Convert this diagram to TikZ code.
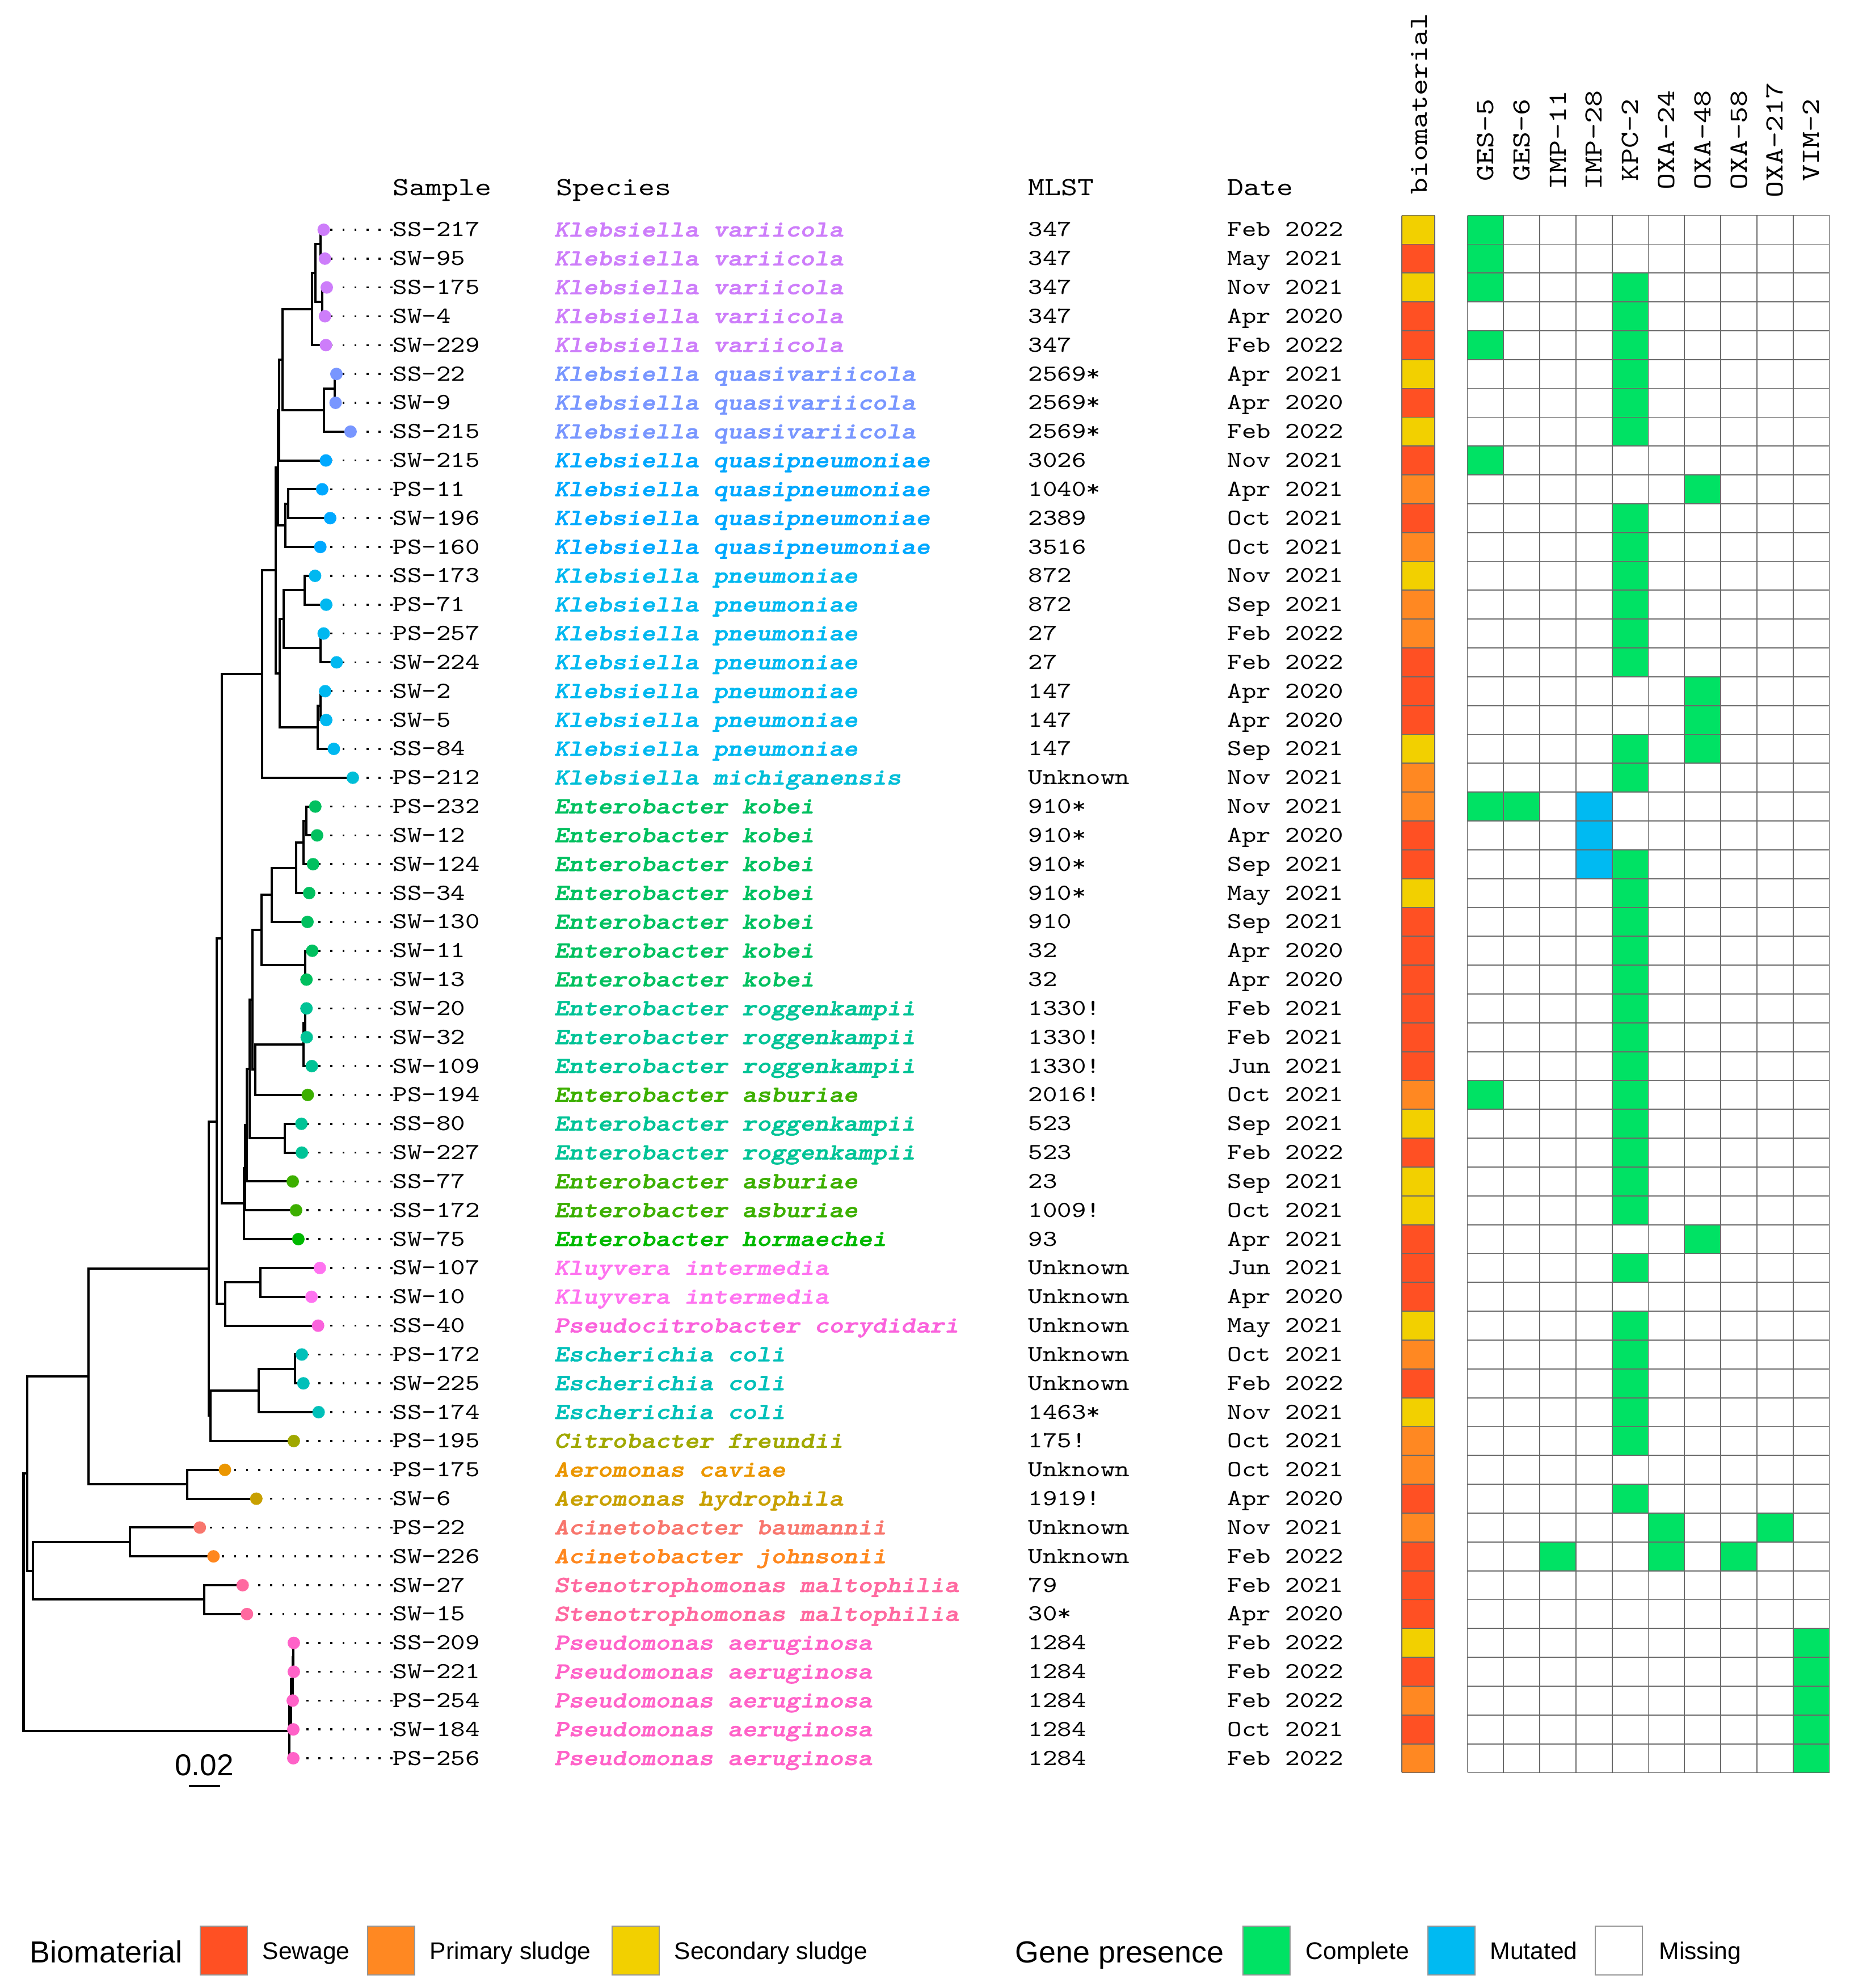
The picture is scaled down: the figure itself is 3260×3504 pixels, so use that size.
\documentclass[tikz,border=0pt]{standalone}
\usepackage{fontspec}
\setmainfont{Liberation Sans}
\newfontfamily\monof{lmmono10-regular.otf}[FakeStretch=1.2]
\newfontfamily\spfont{lmmonolt10-boldoblique.otf}[FakeStretch=1.2, FakeBold=1.5]
\definecolor{cVar}{RGB}{205,125,250}
\definecolor{cQvar}{RGB}{120,150,255}
\definecolor{cQpn}{RGB}{0,168,255}
\definecolor{cKpn}{RGB}{0,184,240}
\definecolor{cKmi}{RGB}{0,190,215}
\definecolor{cEko}{RGB}{0,192,95}
\definecolor{cEro}{RGB}{0,195,150}
\definecolor{cEas}{RGB}{60,175,0}
\definecolor{cEho}{RGB}{0,185,0}
\definecolor{cKin}{RGB}{255,115,240}
\definecolor{cPco}{RGB}{250,98,220}
\definecolor{cEco}{RGB}{0,192,185}
\definecolor{cCfr}{RGB}{160,168,0}
\definecolor{cAca}{RGB}{235,150,0}
\definecolor{cAhy}{RGB}{200,160,0}
\definecolor{cAba}{RGB}{248,118,109}
\definecolor{cAjo}{RGB}{255,135,30}
\definecolor{cSma}{RGB}{255,105,160}
\definecolor{cPae}{RGB}{255,98,200}
\definecolor{cSW}{RGB}{255,80,35}
\definecolor{cPS}{RGB}{255,136,34}
\definecolor{cSS}{RGB}{242,208,0}
\definecolor{cComp}{RGB}{0,226,100}
\definecolor{cMut}{RGB}{0,186,242}
\definecolor{cGridl}{RGB}{105,105,105}
\definecolor{cBoxl}{RGB}{150,150,150}
\tikzset{
  branch/.style={line width=0.04cm, line cap=rect},
  leader/.style={line width=0.036cm, dash pattern=on 0.036cm off 0.176cm},
  tipdot/.style={circle, inner sep=0pt, minimum size=0.22cm},
  rowtxt/.style={anchor=base west, inner sep=0pt, font=\monof\fontsize{11.5}{14}\selectfont},
  sptxt/.style={anchor=base west, inner sep=0pt, font=\spfont\fontsize{11.5}{14}\selectfont},
  hdr/.style={anchor=base west, inner sep=0pt, font=\monof\fontsize{13.1}{16}\selectfont},
  ghdr/.style={anchor=base, rotate=90, inner sep=0pt, font=\monof\fontsize{13.1}{16}\selectfont},
  cellline/.style={draw=cGridl, line width=0.018cm},
  legtitle/.style={anchor=base west, inner sep=0pt, font=\fontsize{15.3}{18}\selectfont},
  leglab/.style={anchor=base west, inner sep=0pt, font=\fontsize{12.1}{14}\selectfont},
  legbox/.style={draw=cBoxl, line width=0.012cm, minimum width=0.83cm, minimum height=0.86cm, inner sep=0pt}
}
\begin{document}
\begin{tikzpicture}[x=0.01cm, y=-0.01cm, declare function={ry(\r)=405+50.83*\r;}]
\useasboundingbox (0,0) rectangle (3260,3504);

% rows: index / tip x / sample / species / colour / MLST / date / biomaterial
\foreach \ri/\rx/\rsam/\rspe/\rcol/\rmls/\rdat/\rbio in {
0/570.5/SS-217/Klebsiella variicola/cVar/347/Feb 2022/cSS,
1/572.8/SW-95/Klebsiella variicola/cVar/347/May 2021/cSW,
2/576.0/SS-175/Klebsiella variicola/cVar/347/Nov 2021/cSS,
3/572.8/SW-4/Klebsiella variicola/cVar/347/Apr 2020/cSW,
4/574.5/SW-229/Klebsiella variicola/cVar/347/Feb 2022/cSW,
5/593.0/SS-22/Klebsiella quasivariicola/cQvar/2569*/Apr 2021/cSS,
6/591.5/SW-9/Klebsiella quasivariicola/cQvar/2569*/Apr 2020/cSW,
7/617.9/SS-215/Klebsiella quasivariicola/cQvar/2569*/Feb 2022/cSS,
8/574.5/SW-215/Klebsiella quasipneumoniae/cQpn/3026/Nov 2021/cSW,
9/567.9/PS-11/Klebsiella quasipneumoniae/cQpn/1040*/Apr 2021/cPS,
10/582.0/SW-196/Klebsiella quasipneumoniae/cQpn/2389/Oct 2021/cSW,
11/564.7/PS-160/Klebsiella quasipneumoniae/cQpn/3516/Oct 2021/cPS,
12/555.4/SS-173/Klebsiella pneumoniae/cKpn/872/Nov 2021/cSS,
13/575.0/PS-71/Klebsiella pneumoniae/cKpn/872/Sep 2021/cPS,
14/570.5/PS-257/Klebsiella pneumoniae/cKpn/27/Feb 2022/cPS,
15/593.3/SW-224/Klebsiella pneumoniae/cKpn/27/Feb 2022/cSW,
16/573.2/SW-2/Klebsiella pneumoniae/cKpn/147/Apr 2020/cSW,
17/575.0/SW-5/Klebsiella pneumoniae/cKpn/147/Apr 2020/cSW,
18/588.4/SS-84/Klebsiella pneumoniae/cKpn/147/Sep 2021/cSS,
19/621.9/PS-212/Klebsiella michiganensis/cKmi/Unknown/Nov 2021/cPS,
20/555.8/PS-232/Enterobacter kobei/cEko/910*/Nov 2021/cPS,
21/558.9/SW-12/Enterobacter kobei/cEko/910*/Apr 2020/cSW,
22/551.8/SW-124/Enterobacter kobei/cEko/910*/Sep 2021/cSW,
23/545.0/SS-34/Enterobacter kobei/cEko/910*/May 2021/cSS,
24/542.0/SW-130/Enterobacter kobei/cEko/910/Sep 2021/cSW,
25/550.4/SW-11/Enterobacter kobei/cEko/32/Apr 2020/cSW,
26/540.2/SW-13/Enterobacter kobei/cEko/32/Apr 2020/cSW,
27/540.2/SW-20/Enterobacter roggenkampii/cEro/1330!/Feb 2021/cSW,
28/540.6/SW-32/Enterobacter roggenkampii/cEro/1330!/Feb 2021/cSW,
29/549.6/SW-109/Enterobacter roggenkampii/cEro/1330!/Jun 2021/cSW,
30/542.4/PS-194/Enterobacter asburiae/cEas/2016!/Oct 2021/cPS,
31/531.3/SS-80/Enterobacter roggenkampii/cEro/523/Sep 2021/cSS,
32/532.1/SW-227/Enterobacter roggenkampii/cEro/523/Feb 2022/cSW,
33/516.0/SS-77/Enterobacter asburiae/cEas/23/Sep 2021/cSS,
34/521.9/SS-172/Enterobacter asburiae/cEas/1009!/Oct 2021/cSS,
35/525.9/SW-75/Enterobacter hormaechei/cEho/93/Apr 2021/cSW,
36/563.8/SW-107/Kluyvera intermedia/cKin/Unknown/Jun 2021/cSW,
37/549.1/SW-10/Kluyvera intermedia/cKin/Unknown/Apr 2020/cSW,
38/560.7/SS-40/Pseudocitrobacter corydidari/cPco/Unknown/May 2021/cSS,
39/532.1/PS-172/Escherichia coli/cEco/Unknown/Oct 2021/cPS,
40/534.8/SW-225/Escherichia coli/cEco/Unknown/Feb 2022/cSW,
41/561.6/SS-174/Escherichia coli/cEco/1463*/Nov 2021/cSS,
42/517.9/PS-195/Citrobacter freundii/cCfr/175!/Oct 2021/cPS,
43/396.4/PS-175/Aeromonas caviae/cAca/Unknown/Oct 2021/cPS,
44/451.8/SW-6/Aeromonas hydrophila/cAhy/1919!/Apr 2020/cSW,
45/352.2/PS-22/Acinetobacter baumannii/cAba/Unknown/Nov 2021/cPS,
46/376.3/SW-226/Acinetobacter johnsonii/cAjo/Unknown/Feb 2022/cSW,
47/427.7/SW-27/Stenotrophomonas maltophilia/cSma/79/Feb 2021/cSW,
48/435.3/SW-15/Stenotrophomonas maltophilia/cSma/30*/Apr 2020/cSW,
49/517.9/SS-209/Pseudomonas aeruginosa/cPae/1284/Feb 2022/cSS,
50/517.9/SW-221/Pseudomonas aeruginosa/cPae/1284/Feb 2022/cSW,
51/516.0/PS-254/Pseudomonas aeruginosa/cPae/1284/Feb 2022/cPS,
52/517.0/SW-184/Pseudomonas aeruginosa/cPae/1284/Oct 2021/cSW,
53/517.0/PS-256/Pseudomonas aeruginosa/cPae/1284/Feb 2022/cPS}
{
  \coordinate (t\ri) at (\rx,{ry(\ri)});
  \node[rowtxt] (samp\ri) at (692,{ry(\ri)+12}) {\rsam};
  \node[sptxt, text=\rcol] (spec\ri) at (976,{ry(\ri)+12}) {\rspe};
  \node[rowtxt] (mlst\ri) at (1812,{ry(\ri)+12}) {\rmls};
  \node[rowtxt] (date\ri) at (2163,{ry(\ri)+12}) {\rdat};
  \draw[leader] (samp\ri.west |- t\ri) -- (t\ri);
  \fill[\rbio] (2471,{ry(\ri)-25.415}) rectangle (2529,{ry(\ri)+25.415});
  \global\expandafter\let\csname tipcol\ri\endcsname\rcol
}

% internal nodes of the tree
\foreach \nm/\nx/\nr in {n1/564.7/0.5, n2/567.9/2.5, n3/555.8/1.5, n4/550.4/2.75,
 n5/590.2/5.5, n6/570.5/6.25, n7/497.8/4.5, n8/492.0/6.25, n9/508.0/9.5,
 n10/503.0/10.25, n11/490.2/8.25, n12/537.0/12.5, n13/564.7/14.5, n14/500.0/13.5,
 n15/564.7/16.5, n16/560.3/17.25, n17/493.3/15.375, n18/485.7/11.8125, n19/462.0/15.40625,
 e1/540.2/20.5, e2/534.8/21.25, e3/522.3/22.125, e4/478.6/23.0625, e5/538.0/25.5,
 e6/461.2/24.28125, e7/538.0/27.5, e8/534.8/28.25, e9/450.0/29.125, e10/444.6/26.703,
 e11/502.2/31.5, e12/439.7/29.10, e13/435.3/31.05, e14/432.1/32.53, e15/430.0/33.76,
 k1/458.5/36.5, k2/397.3/37.25, g1/390.6/24.58, f1/381.7/30.92, c1/520.1/39.5,
 c2/456.3/40.25, c3/371.4/41.125, h1/368.3/36.02, a1/329.5/43.5, h2/156.3/39.76,
 b1/229.0/45.5, s1/359.8/47.5, b2/58.0/46.5, h3/47.8/43.13, p1/517.0/49.5,
 p2/515.6/50.25, p3/512.5/51.125, p4/510.3/52.06, root/41.5/47.6}
  \coordinate (\nm) at (\nx,{ry(\nr)});

% branches
\foreach \pa/\ch in {n1/t0, n1/t1, n2/t2, n2/t3, n3/n1, n3/n2, n4/n3, n4/t4, n5/t5, n5/t6,
 n6/n5, n6/t7, n7/n4, n7/n6, n8/n7, n8/t8, n9/t9, n9/t10, n10/n9, n10/t11, n11/n8, n11/n10,
 n12/t12, n12/t13, n13/t14, n13/t15, n14/n12, n14/n13, n15/t16, n15/t17, n16/n15, n16/t18,
 n17/n14, n17/n16, n18/n11, n18/n17, n19/n18, n19/t19, e1/t20, e1/t21, e2/e1, e2/t22,
 e3/e2, e3/t23, e4/e3, e4/t24, e5/t25, e5/t26, e6/e4, e6/e5, e7/t27, e7/t28, e8/e7, e8/t29,
 e9/e8, e9/t30, e10/e6, e10/e9, e11/t31, e11/t32, e12/e10, e12/e11, e13/e12, e13/t33,
 e14/e13, e14/t34, e15/e14, e15/t35, k1/t36, k1/t37, k2/k1, k2/t38, g1/n19, g1/e15,
 f1/g1, f1/k2, c1/t39, c1/t40, c2/c1, c2/t41, c3/c2, c3/t42, h1/f1, h1/c3, a1/t43, a1/t44,
 h2/h1, h2/a1, b1/t45, b1/t46, s1/t47, s1/t48, b2/b1, b2/s1, h3/h2, h3/b2, p1/t49, p1/t50,
 p2/p1, p2/t51, p3/p2, p3/t52, p4/p3, p4/t53, root/h3, root/p4}
  \draw[branch] (\pa) |- (\ch);

% tip dots
\foreach \ri in {0,...,53}
  \node[tipdot, fill=\csname tipcol\ri\endcsname] (dot\ri) at (t\ri) {};

% column headers
\node[hdr] (hsamp) at (692,345) {Sample};
\node[hdr] (hspec) at (980,345) {Species};
\node[hdr] (hmlst) at (1812,345) {MLST};
\node[hdr] (hdate) at (2163,345) {Date};
\node[hdr, rotate=90] (hbio) at (2515,343) {biomaterial};
\foreach \gk/\gn in {0/GES-5, 1/GES-6, 2/IMP-11, 3/IMP-28, 4/KPC-2, 5/OXA-24, 6/OXA-48, 7/OXA-58, 8/OXA-217, 9/VIM-2}
  \node[ghdr] (gene\gk) at ({2632.4+63.8*\gk},247) {\gn};

% gene presence cells
\foreach \hr/\hc in {0/0, 1/0, 2/0, 2/4, 3/4, 4/0, 4/4, 5/4, 6/4, 7/4, 8/0, 9/6, 10/4, 11/4,
 12/4, 13/4, 14/4, 15/4, 16/6, 17/6, 18/4, 18/6, 19/4, 20/0, 20/1, 22/4, 23/4, 24/4, 25/4,
 26/4, 27/4, 28/4, 29/4, 30/0, 30/4, 31/4, 32/4, 33/4, 34/4, 35/6, 36/4, 38/4, 39/4, 40/4,
 41/4, 42/4, 44/4, 45/5, 45/8, 46/2, 46/5, 46/7, 49/9, 50/9, 51/9, 52/9, 53/9}
  \fill[cComp] ({2586.5+63.8*\hc},{ry(\hr)-25.415}) rectangle ++(63.8,50.83);
\foreach \hr in {20,21,22}
  \fill[cMut] ({2586.5+63.8*3},{ry(\hr)-25.415}) rectangle ++(63.8,50.83);

% grid lines
\foreach \k in {0,...,10}
  \draw[cellline] ({2586.5+63.8*\k},379.6) -- ({2586.5+63.8*\k},3124.4);
\foreach \k in {0,...,54} {
  \draw[cellline] (2586.5,{379.6+50.83*\k}) -- (3224.5,{379.6+50.83*\k});
  \draw[cellline] (2471,{379.6+50.83*\k}) -- (2529,{379.6+50.83*\k});
}
\draw[cellline] (2471,379.6) -- (2471,3124.4);
\draw[cellline] (2529,379.6) -- (2529,3124.4);

% scale bar
\coordinate (sbl) at (332.6,3148);
\coordinate (sbr) at (387.5,3148);
\draw[line width=0.033cm] (sbl) -- (sbr);
\node[anchor=base, inner sep=0pt, font=\fontsize{15.1}{18}\selectfont] (sblab) at (360,3129) {0.02};

% legend
\node[legtitle] (lgbio) at (52,3459) {Biomaterial};
\node[legbox, fill=cSW] (bxsw) at (394.5,3438) {};
\node[leglab] (lbsw) at (462,3453) {Sewage};
\node[legbox, fill=cPS] (bxps) at (689.5,3438) {};
\node[leglab] (lbps) at (757,3453) {Primary sludge};
\node[legbox, fill=cSS] (bxss) at (1120.5,3438) {};
\node[leglab] (lbss) at (1188,3453) {Secondary sludge};
\node[legtitle] (lggene) at (1789,3459) {Gene presence};
\node[legbox, fill=cComp] (bxco) at (2232.5,3438) {};
\node[leglab] (lbco) at (2301,3453) {Complete};
\node[legbox, fill=cMut] (bxmu) at (2558.5,3438) {};
\node[leglab] (lbmu) at (2626,3453) {Mutated};
\node[legbox, fill=white] (bxmi) at (2853.5,3438) {};
\node[leglab] (lbmi) at (2924,3453) {Missing};
\end{tikzpicture}
\end{document}
